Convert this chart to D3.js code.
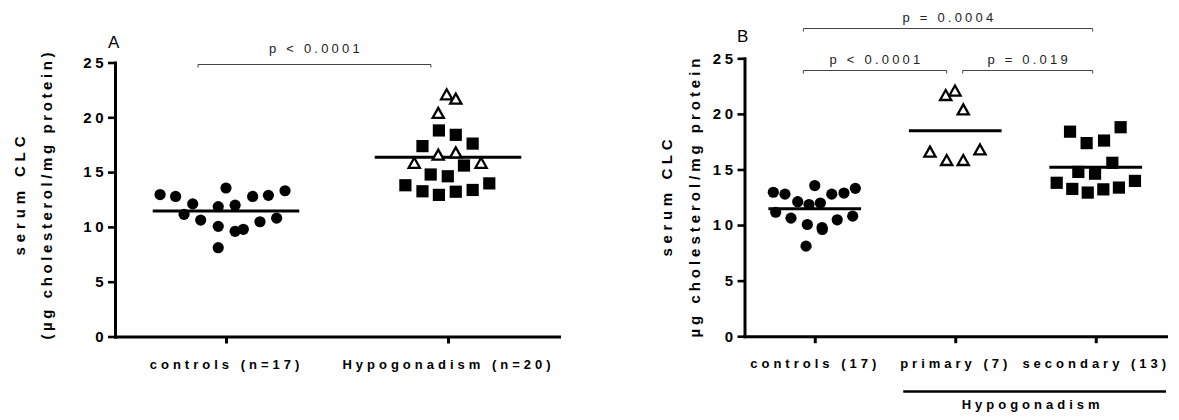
<!DOCTYPE html>
<html>
<head>
<meta charset="utf-8">
<script src="https://cdn.jsdelivr.net/npm/d3@7"></script>
<style>
    body { margin: 0; background: #fff; }
    svg { display: block; font-family: "Liberation Sans", Arial, sans-serif; }
</style>
</head>
<body>
<div id="chart"></div>
<script>
// serum CLC values (µg cholesterol / mg protein)
const controlVals = [12.95, 12.78, 12.1, 11.15, 10.62, 13.55, 11.85, 11.98, 10.05, 8.1, 9.6, 9.78, 12.78, 10.47, 12.88, 10.8, 13.3];
const primaryVals = [22.1, 21.7, 20.4, 16.8, 16.6, 15.85, 15.85];
const secondaryVals = [18.8, 18.4, 17.37, 17.6, 15.6, 14.78, 14.62, 13.8, 13.25, 12.92, 13.21, 13.37, 13.97];

// scatter spread of each dot, as a fraction of the category step
const controlJitterA = [-0.297, -0.227, -0.150, -0.189, -0.114, 0, -0.035, 0.041, -0.035, -0.035, 0.041, 0.078, 0.120, 0.153, 0.191, 0.228, 0.266];
const primaryJitterA = [-0.006, 0.035, -0.044, 0.035, -0.044, -0.152, 0.149];
const secondaryJitterA = [-0.041, 0.035, -0.115, 0.111, 0.072, -0.078, -0.001, -0.192, -0.115, -0.041, 0.035, 0.111, 0.186];
const controlJitterB = [-0.295, -0.212, -0.121, -0.278, -0.169, 0, -0.041, 0.040, -0.053, -0.062, 0.054, 0.052, 0.121, 0.160, 0.208, 0.270, 0.289];
const primaryJitterB = [-0.002, -0.068, 0.057, 0.176, -0.180, -0.061, 0.057];
const secondaryJitterB = [0.177, -0.183, -0.065, 0.059, 0.118, -0.124, -0.005, -0.278, -0.167, -0.057, 0.054, 0.165, 0.279];

const yTicks = [0, 5, 10, 15, 20, 25];
const catsA = ["controls (n=17)", "Hypogonadism (n=20)"];
const catsB = ["controls (17)", "primary (7)", "secondary (13)"];
const bracketsA = [{from: 0, to: 1, label: "p < 0.0001"}];
const bracketsB = [
    {from: 0, to: 1, label: "p < 0.0001"},
    {from: 1, to: 2, label: "p = 0.019"},
    {from: 0, to: 2, label: "p = 0.0004"}
];

const svg = d3.select("#chart").append("svg")
    .attr("width", 1179)
    .attr("height", 420);

svg.append("rect").attr("width", 1179).attr("height", 420).attr("fill", "#fff");

const panels = [
    {
        letter: "A", letterPos: [108, 48],
        cats: catsA, brackets: bracketsA,
        xRange: [115, 559], yRange: [336.5, 62.5],
        groups: [
            {cat: 0, vals: controlVals, jit: controlJitterA, shape: "circle"},
            {cat: 1, vals: primaryVals, jit: primaryJitterA, shape: "triangle"},
            {cat: 1, vals: secondaryVals, jit: secondaryJitterA, shape: "square"}
        ],
        means: [
            {cat: 0, vals: controlVals},
            {cat: 1, vals: primaryVals.concat(secondaryVals)}
        ],
        titles: ["serum CLC", "(µg cholesterol/mg protein)"],
        titleX: [25, 52], titleY: 196, titleLen: [119, 287],
        bracketLevel: [24.85], bracketShift: [[-0.126, -0.077]], textGap: 12,
        catLabelY: 369, catFont: 13
    },
    {
        letter: "B", letterPos: [737, 42],
        cats: catsB, brackets: bracketsB,
        xRange: [744.5, 1166], yRange: [336.2, 58.3],
        groups: [
            {cat: 0, vals: controlVals, jit: controlJitterB, shape: "circle"},
            {cat: 1, vals: primaryVals, jit: primaryJitterB, shape: "triangle"},
            {cat: 2, vals: secondaryVals, jit: secondaryJitterB, shape: "square"}
        ],
        means: [
            {cat: 0, vals: controlVals},
            {cat: 1, vals: primaryVals},
            {cat: 2, vals: secondaryVals}
        ],
        titles: ["serum CLC", "µg cholesterol/mg protein"],
        titleX: [672, 700], titleY: 198, titleLen: [117, 279],
        bracketLevel: [23.95, 23.95, 27.7],
        bracketShift: [[-0.081, -0.061], [0.053, -0.022], [-0.081, -0.022]], textGap: 7,
        catLabelY: 368, catFont: 13,
        groupLabel: {text: "Hypogonadism", from: 1, to: 2}
    }
];

panels.forEach(drawPanel);

function drawPanel(p) {
    let g = svg.append("g");

    let x = d3.scalePoint()
        .domain(d3.range(p.cats.length))
        .range(p.xRange)
        .padding(0.5);
    let step = x.step();

    let y = d3.scaleLinear()
        .domain([0, 25])
        .range(p.yRange);

    // y axis
    let yAxis = g.append("g")
        .attr("transform", `translate(${p.xRange[0]},0)`)
        .call(d3.axisLeft(y).tickValues(yTicks).tickSize(7).tickSizeOuter(0).tickPadding(1));
    yAxis.select(".domain").attr("stroke-width", 3).attr("stroke-linecap", "square");
    yAxis.selectAll(".tick line").attr("stroke-width", 2.6);
    yAxis.selectAll(".tick text")
        .attr("font-size", 15)
        .attr("font-weight", "bold")
        .attr("font-family", "Liberation Sans, Arial, sans-serif")
        .style("letter-spacing", "3.5px")
        .attr("fill", "#000");

    // x axis
    let xAxis = g.append("g")
        .attr("transform", `translate(0,${p.yRange[0]})`)
        .call(d3.axisBottom(x).tickSize(7).tickSizeOuter(0).tickFormat(i => p.cats[i]));
    xAxis.select(".domain").attr("stroke-width", 3).attr("stroke-linecap", "square");
    xAxis.selectAll(".tick line").attr("stroke-width", 3);
    xAxis.selectAll(".tick text")
        .attr("y", p.catLabelY - p.yRange[0])
        .attr("dy", 0)
        .attr("font-size", p.catFont)
        .attr("font-weight", "bold")
        .attr("font-family", "Liberation Sans, Arial, sans-serif")
        .style("letter-spacing", "4px")
        .attr("fill", "#000");

    // y axis title (two lines, rotated)
    p.titles.forEach((t, i) => {
        g.append("text")
            .attr("transform", `translate(${p.titleX[i]},${p.titleY}) rotate(-90)`)
            .attr("text-anchor", "middle")
            .attr("font-size", 15)
            .attr("font-weight", "bold")
            .attr("textLength", p.titleLen[i])
            .attr("lengthAdjust", "spacing")
            .text(t);
    });

    // panel letter
    g.append("text")
        .attr("x", p.letterPos[0])
        .attr("y", p.letterPos[1])
        .attr("font-size", 17)
        .text(p.letter);

    // mean lines
    g.selectAll(".mean")
        .data(p.means)
        .enter().append("line")
        .attr("class", "mean")
        .attr("x1", d => x(d.cat) - step * 0.33)
        .attr("x2", d => x(d.cat) + step * 0.33)
        .attr("y1", d => y(d3.mean(d.vals)))
        .attr("y2", d => y(d3.mean(d.vals)))
        .attr("stroke", "#000")
        .attr("stroke-width", 3);

    // dots
    p.groups.forEach(grp => {
        let pts = grp.vals.map((v, i) => ({v: v, j: grp.jit[i], cat: grp.cat}));
        let sel = g.append("g").selectAll("g")
            .data(pts)
            .enter().append("g")
            .attr("transform", d => `translate(${x(d.cat) + d.j * step},${y(d.v)})`);
        if (grp.shape === "circle") {
            sel.append("circle").attr("r", 5.6).attr("fill", "#000");
        } else if (grp.shape === "square") {
            sel.append("rect")
                .attr("x", -6.1).attr("y", -6.1)
                .attr("width", 12.2).attr("height", 12.2)
                .attr("fill", "#000");
        } else {
            sel.append("path")
                .attr("d", "M0,-5 L5.6,5 L-5.6,5 Z")
                .attr("fill", "#fff")
                .attr("stroke", "#000")
                .attr("stroke-width", 2.3)
                .attr("stroke-linejoin", "miter");
        }
    });

    // significance brackets
    p.brackets.forEach((b, i) => {
        let x1 = x(b.from) + p.bracketShift[i][0] * step;
        let x2 = x(b.to) + p.bracketShift[i][1] * step;
        let yy = Math.round(y(p.bracketLevel[i])) + 0.5;
        g.append("path")
            .attr("d", `M${x1},${yy + 3}V${yy}H${x2}V${yy + 3}`)
            .attr("fill", "none")
            .attr("stroke", "#444")
            .attr("stroke-width", 1);
        g.append("text")
            .attr("x", (x1 + x2) / 2 + 1.5)
            .attr("y", yy - p.textGap)
            .attr("text-anchor", "middle")
            .attr("font-size", 13)
            .style("letter-spacing", "3.2px")
            .attr("fill", "#222")
            .text(b.label);
    });

    // grouping line under categories
    if (p.groupLabel) {
        let gl = p.groupLabel;
        let lx1 = x(gl.from) - step * 0.37;
        let lx2 = p.xRange[1];
        g.append("line")
            .attr("x1", lx1).attr("x2", lx2)
            .attr("y1", 391.5).attr("y2", 391.5)
            .attr("stroke", "#000")
            .attr("stroke-width", 2.6);
        g.append("text")
            .attr("x", (lx1 + lx2) / 2 - 2)
            .attr("y", 409)
            .attr("text-anchor", "middle")
            .attr("font-size", 13)
            .attr("font-weight", "bold")
            .style("letter-spacing", "4px")
            .text(gl.text);
    }
}
</script>
</body>
</html>
